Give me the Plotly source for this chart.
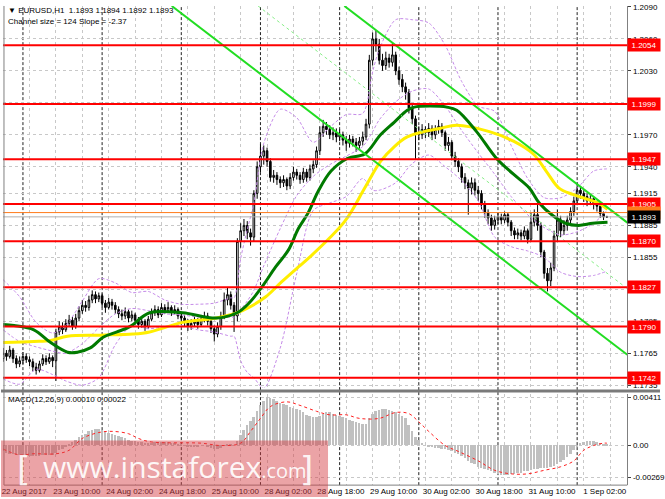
import plotly.graph_objects as go

W, H = 665, 499

# ---------------- data ----------------
bar_idx = list(range(184))

closes = [
    1.1765,1.1762,1.1768,1.1760,1.1755,1.1758,1.1762,1.1759,1.1757,1.1752,1.1749,1.1755,1.1760,1.1757,1.1761,1.1758,
    1.1785,1.1790,1.1787,1.1793,1.1796,1.1790,1.1798,1.1805,1.1810,1.1808,1.1815,1.1820,1.1816,1.1819,1.1812,1.1808,
    1.1813,1.1810,1.1806,1.1802,1.1800,1.1804,1.1798,1.1801,1.1796,1.1792,1.1795,1.1790,1.1797,1.1803,1.1806,1.1801,
    1.1808,1.1805,1.1808,1.1804,1.1806,1.1800,1.1798,1.1794,1.1790,1.1793,1.1795,1.1792,1.1797,1.1800,1.1795,1.1788,
    1.1783,1.1790,1.1800,1.1815,1.1820,1.1810,1.1800,1.1870,1.1880,1.1885,1.1878,1.1874,1.1915,1.1940,1.1950,1.1955,
    1.1945,1.1930,1.1932,1.1928,1.1925,1.1928,1.1922,1.1930,1.1935,1.1932,1.1928,1.1935,1.1930,1.1938,1.1942,1.1955,
    1.1972,1.1978,1.1975,1.1970,1.1972,1.1968,1.1970,1.1965,1.1962,1.1966,1.1963,1.1960,1.1964,1.1968,1.1980,1.2040,
    1.2060,1.2055,1.2040,1.2035,1.2042,1.2038,1.2045,1.2030,1.2022,1.2015,1.2010,1.1995,1.1985,1.1972,1.1970,1.1975,
    1.1972,1.1976,1.1970,1.1975,1.1978,1.1972,1.1960,1.1963,1.1950,1.1945,1.1940,1.1930,1.1925,1.1920,1.1925,1.1918,
    1.1915,1.1905,1.1897,1.1892,1.1885,1.1890,1.1893,1.1890,1.1895,1.1888,1.1880,1.1876,1.1878,1.1875,1.1880,1.1872,
    1.1888,1.1895,1.1885,1.1860,1.1840,1.1833,1.1845,1.1875,1.1890,1.1880,1.1885,1.1890,1.1898,1.1908,1.1918,1.1915,
    1.1912,1.1908,1.1910,1.1905,1.1903,1.1896,1.1893,1.1893,
]
highs = [
    1.1770,1.1768,1.1772,1.1770,1.1763,1.1762,1.1766,1.1765,1.1762,1.1760,1.1756,1.1758,1.1764,1.1763,1.1765,1.1763,
    1.1788,1.1795,1.1794,1.1797,1.1801,1.1799,1.1802,1.1809,1.1815,1.1814,1.1819,1.1824,1.1823,1.1822,1.1821,1.1815,
    1.1817,1.1816,1.1813,1.1809,1.1806,1.1808,1.1806,1.1805,1.1803,1.1799,1.1799,1.1797,1.1800,1.1807,1.1810,1.1809,
    1.1812,1.1811,1.1813,1.1810,1.1810,1.1808,1.1803,1.1801,1.1797,1.1797,1.1799,1.1798,1.1801,1.1804,1.1803,1.1797,
    1.1791,1.1794,1.1804,1.1822,1.1827,1.1823,1.1813,1.1873,1.1887,1.1891,1.1889,1.1882,1.1918,1.1945,1.1961,1.1960,
    1.1958,1.1948,1.1937,1.1935,1.1931,1.1932,1.1930,1.1934,1.1940,1.1938,1.1935,1.1939,1.1938,1.1942,1.1946,1.1959,
    1.1978,1.1984,1.1982,1.1979,1.1977,1.1976,1.1975,1.1973,1.1969,1.1970,1.1969,1.1967,1.1968,1.1973,1.1985,1.2045,
    1.2066,1.2068,1.2060,1.2046,1.2048,1.2046,1.2056,1.2048,1.2034,1.2027,1.2019,1.2013,1.1999,1.1988,1.1978,1.1980,
    1.1978,1.1981,1.1979,1.1979,1.1984,1.1981,1.1974,1.1968,1.1965,1.1954,1.1948,1.1943,1.1934,1.1928,1.1930,1.1929,
    1.1922,1.1918,1.1908,1.1900,1.1895,1.1894,1.1897,1.1896,1.1898,1.1897,1.1890,1.1883,1.1882,1.1881,1.1884,1.1882,
    1.1897,1.1900,1.1906,1.1888,1.1862,1.1845,1.1850,1.1880,1.1900,1.1894,1.1890,1.1894,1.1902,1.1912,1.1925,1.1922,
    1.1918,1.1915,1.1914,1.1912,1.1908,1.1905,1.1898,1.1894,
]
lows = [
    1.1757,1.1758,1.1760,1.1756,1.1751,1.1752,1.1755,1.1756,1.1753,1.1748,1.1745,1.1747,1.1753,1.1754,1.1755,1.1752,
    1.1739,1.1782,1.1783,1.1785,1.1790,1.1787,1.1788,1.1795,1.1802,1.1804,1.1805,1.1812,1.1812,1.1813,1.1808,1.1803,
    1.1806,1.1806,1.1802,1.1798,1.1796,1.1797,1.1794,1.1795,1.1792,1.1788,1.1789,1.1786,1.1788,1.1795,1.1800,1.1798,
    1.1799,1.1802,1.1803,1.1800,1.1801,1.1797,1.1794,1.1790,1.1786,1.1787,1.1790,1.1788,1.1790,1.1794,1.1791,1.1784,
    1.1776,1.1780,1.1787,1.1797,1.1810,1.1806,1.1785,1.1795,1.1864,1.1875,1.1872,1.1866,1.1870,1.1910,1.1935,1.1942,
    1.1940,1.1926,1.1925,1.1923,1.1920,1.1921,1.1918,1.1919,1.1927,1.1928,1.1924,1.1925,1.1926,1.1927,1.1934,1.1939,
    1.1951,1.1968,1.1970,1.1966,1.1965,1.1963,1.1964,1.1960,1.1955,1.1958,1.1959,1.1954,1.1957,1.1960,1.1965,1.1976,
    1.2035,1.2048,1.2036,1.2030,1.2031,1.2033,1.2034,1.2026,1.2017,1.2010,1.2003,1.1990,1.1980,1.1947,1.1965,1.1966,
    1.1967,1.1968,1.1965,1.1966,1.1971,1.1968,1.1955,1.1955,1.1946,1.1940,1.1935,1.1925,1.1919,1.1895,1.1914,1.1913,
    1.1908,1.1900,1.1892,1.1886,1.1880,1.1881,1.1886,1.1886,1.1887,1.1884,1.1875,1.1872,1.1872,1.1871,1.1872,1.1868,
    1.1870,1.1884,1.1880,1.1855,1.1835,1.1823,1.1828,1.1842,1.1870,1.1874,1.1876,1.1880,1.1886,1.1894,1.1904,1.1910,
    1.1907,1.1903,1.1904,1.1900,1.1898,1.1892,1.1890,1.1892,
]
first_open = 1.1760
opens = [first_open] + closes[:-1]

# moving averages
ma_green_idx = [0, 3.3, 9.3, 14.4, 19.5, 22.5, 26.4, 30.3, 34.5, 38.4, 44.4, 54.4, 64.6, 70.9, 74.5, 78.4,
                82.6, 86.5, 89.5, 92.5, 95.5, 99.4, 104.5, 109.6, 114.4, 118.6, 122.5, 124.6, 129.4, 134.5,
                137.5, 143.5, 149.5, 154.7, 159.5, 162.5, 166.7, 170.5, 174.4, 178.7, 183.2]
ma_green_val = [1.1792, 1.1791, 1.1787, 1.1775, 1.1766, 1.1766, 1.1770, 1.1780, 1.1785, 1.1790, 1.1803, 1.1803,
                1.1798, 1.1803, 1.1812, 1.1827, 1.1846, 1.1862, 1.1882, 1.1897, 1.1917, 1.1936, 1.1948, 1.1952,
                1.1970, 1.1982, 1.1993, 1.1996, 1.1997, 1.1996, 1.1993, 1.1973, 1.1948, 1.1933, 1.1920, 1.1906,
                1.1894, 1.1887, 1.1885, 1.1887, 1.1888]
ma_yellow_idx = [0, 9.3, 14.4, 19.5, 29.4, 39.3, 44.4, 54.4, 64.6, 70.9, 74.5, 79.6, 84.4, 89.5, 92.5, 103.6,
                 109.6, 114.4, 118.6, 122.5, 127.6, 132.4, 137.5, 147.4, 154.7, 160.7, 164.6, 168.5, 172.7,
                 176.6, 180.4, 183.2]
ma_yellow_val = [1.1775, 1.1776, 1.1777, 1.1781, 1.1782, 1.1783, 1.1785, 1.1794, 1.1798, 1.1803, 1.1808, 1.1818,
                 1.1832, 1.1846, 1.1854, 1.1889, 1.1920, 1.1945, 1.1959, 1.1968, 1.1973, 1.1976, 1.1979, 1.1973,
                 1.1964, 1.1952, 1.1936, 1.1920, 1.1914, 1.1910, 1.1906, 1.1900]

# Bollinger bands
bb_idx = [0, 5, 10, 15, 19, 24, 29, 34, 39, 44, 49, 54, 59, 64, 69, 70, 72, 74, 76, 79, 84, 89, 94, 99, 104,
          109, 112, 114, 119, 124, 129, 134, 139, 144, 149, 154, 159, 164, 169, 174, 179, 183]
bb_upper = [1.1834, 1.1818, 1.1794, 1.1784, 1.1791, 1.1814, 1.1835, 1.1831, 1.1822, 1.1823, 1.1815, 1.1811,
            1.1811, 1.1812, 1.1817, 1.1817, 1.1854, 1.1881, 1.1906, 1.1962, 1.1994, 1.1986, 1.1963, 1.1977,
            1.1989, 1.1990, 1.2029, 1.2050, 1.2078, 1.2078, 1.2075, 1.2054, 1.2020, 1.1997, 1.1992, 1.1960,
            1.1929, 1.1911, 1.1911, 1.1920, 1.1936, 1.1938]
bb_middle = [1.1787, 1.1776, 1.1771, 1.1767, 1.1765, 1.1774, 1.1789, 1.1802, 1.1807, 1.1805, 1.1802, 1.1801,
             1.1799, 1.1798, 1.1799, 1.1799, 1.1806, 1.1814, 1.1824, 1.1847, 1.1882, 1.1913, 1.1931, 1.1942,
             1.1950, 1.1959, 1.1973, 1.1984, 1.2001, 1.2011, 1.2013, 1.1997, 1.1974, 1.1953, 1.1933, 1.1912,
             1.1895, 1.1883, 1.1876, 1.1879, 1.1887, 1.1899]
bb_lower = [1.1741, 1.1736, 1.1750, 1.1745, 1.1739, 1.1735, 1.1742, 1.1773, 1.1791, 1.1788, 1.1790, 1.1791,
            1.1787, 1.1785, 1.1781, 1.1781, 1.1758, 1.1747, 1.1742, 1.1732, 1.1770, 1.1840, 1.1899, 1.1906,
            1.1912, 1.1929, 1.1918, 1.1918, 1.1925, 1.1943, 1.1951, 1.1940, 1.1927, 1.1908, 1.1874, 1.1865,
            1.1861, 1.1855, 1.1841, 1.1837, 1.1838, 1.1842]

# equidistant channel
ch_anchor_idx = 49.8
ch_anchor_price = 1.2094
ch_slope = -0.000237      # price per bar
ch_size = 0.0124
ch_end_idx = 189.2

# horizontal levels
levels = [1.2054, 1.1999, 1.1947, 1.1905, 1.1870, 1.1827, 1.1790, 1.1742]
level_orange = 1.1897
bid = 1.1893

price_ticks = [1.2090, 1.2060, 1.2030, 1.2000, 1.1970, 1.1940, 1.1915, 1.1885, 1.1855, 1.1825, 1.1795, 1.1765, 1.1735]
price_tick_text = ["1.2090", "1.2060", "1.2030", "", "1.1970", "1.1940", "1.1915", "1.1885", "1.1855", "",
                   "1.1795", "1.1765", "1.1735"]

time_tick_idx = [0, 16, 32, 48, 64, 80, 96, 112, 128, 144, 160, 176]
time_tick_labels = ["22 Aug 2017", "23 Aug 10:00", "24 Aug 02:00", "24 Aug 18:00", "25 Aug 10:00",
                    "28 Aug 02:00", "28 Aug 18:00", "29 Aug 10:00", "30 Aug 02:00", "30 Aug 18:00",
                    "31 Aug 10:00", "1 Sep 02:00"]
day_sep_idx = [6, 30, 54, 78, 102, 126, 150, 174]

macd_hist = [
    -0.0005,-0.0006,-0.0007,-0.0007,-0.0008,-0.0008,-0.0008,-0.0009,-0.0009,-0.0009,-0.0009,-0.0009,-0.0008,-0.0008,-0.0008,-0.0008,
    -0.0006,-0.0004,-0.0003,-0.0001,0.0001,0.0003,0.0005,0.0007,0.0009,0.0010,0.0012,0.0013,0.0014,0.0014,0.0013,0.0012,
    0.0011,0.0010,0.0009,0.0008,0.0007,0.0006,0.0005,0.0004,0.0004,0.0003,0.0003,0.0002,0.0002,0.0002,0.0003,0.0003,
    0.0003,0.0003,0.0003,0.0002,0.0002,0.0001,0.0001,0.0000,-0.0001,-0.0001,-0.0001,-0.0001,0.0000,0.0000,-0.0001,-0.0002,
    -0.0003,-0.0003,-0.0002,0.0000,0.0001,0.0001,0.0000,0.0004,0.0009,0.0013,0.0017,0.0021,0.0024,0.0029,0.0034,0.0038,
    0.0041,0.0040,0.0039,0.0038,0.0036,0.0035,0.0034,0.0033,0.0032,0.0031,0.0030,0.0028,0.0026,0.0025,0.0024,0.0024,
    0.0025,0.0027,0.0028,0.0028,0.0027,0.0026,0.0025,0.0024,0.0023,0.0022,0.0021,0.0020,0.0019,0.0018,0.0018,0.0023,
    0.0027,0.0029,0.0030,0.0031,0.0031,0.0030,0.0029,0.0028,0.0027,0.0025,0.0023,0.0017,0.0012,0.0007,0.0005,0.0002,
    0.0000,-0.0001,-0.0001,-0.0002,-0.0002,-0.0003,-0.0003,-0.0004,-0.0005,-0.0006,-0.0007,-0.0009,-0.0011,-0.0013,-0.0015,-0.0016,
    -0.0018,-0.0019,-0.0020,-0.0021,-0.0022,-0.0023,-0.0024,-0.0025,-0.0025,-0.0025,-0.0024,-0.0024,-0.0023,-0.0023,-0.0022,-0.0022,
    -0.0021,-0.0020,-0.0020,-0.0019,-0.0019,-0.0019,-0.0018,-0.0017,-0.0016,-0.0014,-0.0012,-0.0010,-0.0007,-0.0004,-0.0001,0.0002,
    0.0003,0.0004,0.0004,0.0004,0.0003,0.0002,0.0001,0.0001,
]
sig_idx = [0, 5, 9, 16, 20, 24, 29, 33, 38, 41, 45, 60, 66, 72, 75, 78, 81, 86, 90, 95, 99, 104, 108, 114, 119,
           123, 126, 129, 134, 138, 144, 149, 154, 159, 164, 169, 173, 176, 179, 182, 183]
sig_val = [-0.0003, -0.0008, -0.0007, -0.0007, -0.0004, 0.0006, 0.0011, 0.0012, 0.0010, 0.0006, 0.0003, 0.0002,
           0.0000, 0.0002, 0.0012, 0.0023, 0.0033, 0.0037, 0.0034, 0.0029, 0.0026, 0.0026, 0.0023, 0.0023, 0.0028,
           0.0027, 0.0020, 0.0012, 0.0000, -0.0005, -0.0013, -0.0021, -0.0024, -0.0024, -0.0021, -0.0018, -0.0013,
           -0.0004, 0.0000, 0.0002, 0.0002]
macd_ticks = [0.00411, 0.0, -0.00269]
macd_tick_text = ["0.00411", "0.00", "-0.00269"]

header1 = "\u25BC EURUSD,H1  1.1893 1.1894 1.1892 1.1893"
header2 = "Channel size = 124 Slope = -2.37"
macd_title = "MACD(12,26,9) 0.00010 0.00022"

# ---------------- layout helpers (pixel -> paper) ----------------
def px(x):
    return x / W

def py(y):
    return 1 - y / H

FONT = "Liberation Sans"
X_RANGE = [-0.05, 189.2]
Y_RANGE = [1.17323, 1.20909]
M_RANGE = [-0.003356, 0.004363]
XDOM = [px(2), px(632)]
YDOM = [py(389), py(3)]
MDOM = [py(487), py(395)]

fig = go.Figure()

# Bollinger bands
for band in (bb_upper, bb_middle, bb_lower):
    fig.add_trace(go.Scatter(x=bb_idx, y=band, mode="lines",
                             line=dict(color="#c58be8", width=1, dash="3px,2px", shape="spline", smoothing=0.8),
                             hoverinfo="skip", xaxis="x", yaxis="y"))

# candles
fig.add_trace(go.Candlestick(
    x=bar_idx, open=opens, high=highs, low=lows, close=closes,
    increasing=dict(line=dict(color="black", width=1), fillcolor="white"),
    decreasing=dict(line=dict(color="black", width=1), fillcolor="black"),
    whiskerwidth=0, xaxis="x", yaxis="y"))

# moving averages
fig.add_trace(go.Scatter(x=ma_yellow_idx, y=ma_yellow_val, mode="lines", line=dict(color="#ffee00", width=3, shape="spline"),
                         xaxis="x", yaxis="y"))
fig.add_trace(go.Scatter(x=ma_green_idx, y=ma_green_val, mode="lines", line=dict(color="#007a00", width=3, shape="spline"),
                         xaxis="x", yaxis="y"))

# channel
def ch_line(offset, start_idx):
    p0 = ch_anchor_price + offset + ch_slope * (start_idx - ch_anchor_idx)
    p1 = ch_anchor_price + offset + ch_slope * (ch_end_idx - ch_anchor_idx)
    return [start_idx, ch_end_idx], [p0, p1]

top_price = Y_RANGE[1]
for off, dash, col, wd in ((0.0, None, "#22dd22", 2), (ch_size, None, "#22dd22", 2), (ch_size / 2, "3px,3px", "#88ee88", 1)):
    start = ch_anchor_idx + (top_price - (ch_anchor_price + off)) / ch_slope
    xs, ys = ch_line(off, start)
    fig.add_trace(go.Scatter(x=xs, y=ys, mode="lines", line=dict(color=col, width=wd, dash=dash),
                             xaxis="x", yaxis="y"))

# MACD
fig.add_trace(go.Bar(x=bar_idx, y=macd_hist, marker=dict(color="#c0c0c0", line=dict(width=0)), width=0.6,
                     xaxis="x2", yaxis="y2"))
fig.add_trace(go.Scatter(x=sig_idx, y=sig_val, mode="lines", line=dict(color="#ff2020", width=1, dash="dot", shape="spline"),
                         xaxis="x2", yaxis="y2"))

shapes = []
# day separators
for d in day_sep_idx:
    shapes.append(dict(type="line", xref="x", yref="paper", x0=d, x1=d, y0=MDOM[0], y1=YDOM[1],
                       line=dict(color="#222222", width=1, dash="3px,2px"), layer="below"))
# level lines
for lv in levels:
    shapes.append(dict(type="line", xref="x domain", yref="y", x0=0, x1=1, y0=lv, y1=lv,
                       line=dict(color="#ff0000", width=2), layer="above"))
shapes.append(dict(type="line", xref="x domain", yref="y", x0=0, x1=1, y0=level_orange, y1=level_orange,
                   line=dict(color="#ff7a1a", width=1), layer="above"))
shapes.append(dict(type="line", xref="x domain", yref="y", x0=0, x1=1, y0=bid, y1=bid,
                   line=dict(color="#b0b0b0", width=1), layer="above"))
# frame / separators
shapes.append(dict(type="line", xref="paper", yref="paper", x0=px(3), x1=px(3), y0=MDOM[0], y1=YDOM[1],
                   line=dict(color="#808080", width=1)))
shapes.append(dict(type="rect", xref="paper", yref="paper", x0=0, x1=1, y0=py(393.5), y1=py(390.5),
                   fillcolor="#7a7a7a", line=dict(width=0)))
shapes.append(dict(type="line", xref="paper", yref="paper", x0=px(3), x1=px(632), y0=MDOM[0], y1=MDOM[0],
                   line=dict(color="#808080", width=1)))
# watermark panel
shapes.append(dict(type="rect", xref="paper", yref="paper", x0=0, x1=px(330), y0=0, y1=py(442),
                   fillcolor="rgba(214,62,70,0.48)", line=dict(width=0), layer="above"))

annotations = []
for lv in levels:
    annotations.append(dict(xref="paper", yref="y", x=px(632), y=lv, xanchor="left", yanchor="middle",
                            text="%.4f" % lv, showarrow=False, bgcolor="#ff0000",
                            font=dict(family=FONT, size=8, color="white"), width=30, height=10, borderpad=1))
annotations.append(dict(xref="paper", yref="y", x=px(632), y=level_orange, xanchor="left", yanchor="middle",
                        text="%.4f" % level_orange, showarrow=False, bgcolor="#ff7a1a",
                        font=dict(family=FONT, size=8, color="white"), width=30, height=10, borderpad=1))
annotations.append(dict(xref="paper", yref="y", x=px(632), y=bid, xanchor="left", yanchor="middle",
                        text="%.4f" % bid, showarrow=False, bgcolor="#000000",
                        font=dict(family=FONT, size=8, color="white"), width=30, height=10, borderpad=1))
annotations.append(dict(xref="paper", yref="paper", x=px(5), y=py(8), xanchor="left", yanchor="middle",
                        text=header1, showarrow=False, font=dict(family=FONT, size=8, color="black")))
annotations.append(dict(xref="paper", yref="paper", x=px(5), y=py(19), xanchor="left", yanchor="middle",
                        text=header2, showarrow=False, font=dict(family=FONT, size=8, color="black")))
annotations.append(dict(xref="paper", yref="paper", x=px(5), y=py(401), xanchor="left", yanchor="middle",
                        text=macd_title, showarrow=False, font=dict(family=FONT, size=8, color="black")))
# watermark text
annotations.append(dict(xref="paper", yref="paper", x=px(14), y=py(471), xanchor="left", yanchor="middle",
                        text="[", showarrow=False, font=dict(family="DejaVu Sans", size=34, color="rgba(255,255,255,0.9)")))
annotations.append(dict(xref="paper", yref="paper", x=px(40), y=py(468), xanchor="left", yanchor="middle",
                        text="www.instaforex<span style='font-size:20px'>.com</span>", showarrow=False,
                        font=dict(family="Open Sans", size=30, color="rgba(255,255,255,0.92)")))
annotations.append(dict(xref="paper", yref="paper", x=px(300), y=py(471), xanchor="left", yanchor="middle",
                        text="]", showarrow=False, font=dict(family="DejaVu Sans", size=34, color="rgba(255,255,255,0.9)")))

grid_idx = list(range(0, 192, 8))
grid_text = []
for g in grid_idx:
    if g in time_tick_idx:
        grid_text.append(time_tick_labels[time_tick_idx.index(g)])
    else:
        grid_text.append("")

fig.update_layout(
    width=W, height=H, autosize=False,
    margin=dict(l=0, r=0, t=0, b=0),
    paper_bgcolor="white", plot_bgcolor="white",
    showlegend=False, bargap=0,
    shapes=shapes, annotations=annotations,
    xaxis=dict(domain=XDOM, range=X_RANGE, anchor="y", tickvals=grid_idx, showticklabels=False,
               showgrid=True, gridcolor="#c8c8c8", griddash="3px,3px", gridwidth=1, zeroline=False,
               rangeslider=dict(visible=False), fixedrange=True),
    xaxis2=dict(domain=XDOM, range=X_RANGE, anchor="y2", tickvals=grid_idx, ticktext=grid_text,
                showgrid=True, gridcolor="#c8c8c8", griddash="3px,3px", gridwidth=1, zeroline=False,
                ticks="", tickfont=dict(family=FONT, size=8, color="black"), ticklabelshift=21,
                ticklabelstandoff=0),
    yaxis=dict(domain=YDOM, range=Y_RANGE, anchor="x", side="right", tickvals=price_ticks,
               ticktext=price_tick_text, showgrid=True, gridcolor="#c8c8c8",
               griddash="3px,3px", zeroline=False, ticks="outside", ticklen=3, tickcolor="#404040",
               showline=True, linecolor="#808080", linewidth=1,
               tickfont=dict(family=FONT, size=8, color="black")),
    yaxis2=dict(domain=MDOM, range=M_RANGE, anchor="x2", side="right", tickvals=macd_ticks,
                ticktext=macd_tick_text, showgrid=True, gridcolor="#c8c8c8", griddash="3px,3px",
                zeroline=False, ticks="outside", ticklen=3, tickcolor="#404040",
                showline=True, linecolor="#808080", linewidth=1,
                tickfont=dict(family=FONT, size=8, color="black")),
)

fig.write_html("out.html", config={"displayModeBar": False},
               post_script="document.body.style.margin='0px';document.body.style.overflow='hidden';")
